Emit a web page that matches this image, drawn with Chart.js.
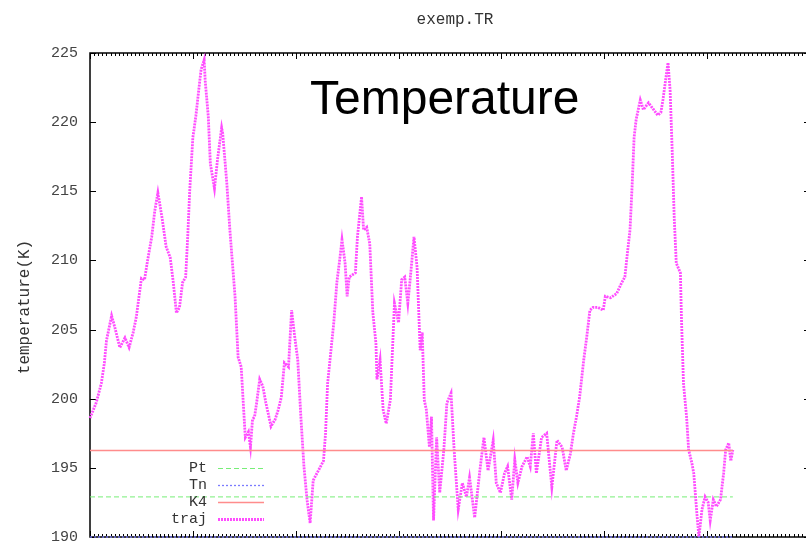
<!DOCTYPE html>
<html>
<head>
<meta charset="utf-8">
<title>exemp.TR</title>
<script src="https://cdn.jsdelivr.net/npm/chart.js@4.4.1/dist/chart.umd.min.js"></script>
<style>
  html, body { margin: 0; padding: 0; background: #fff; overflow: hidden; }
  #wrap { width: 812px; height: 546px; }
</style>
</head>
<body>
<div id="wrap"><canvas id="trChart" width="812" height="546"></canvas></div>
<script>
// ===== Data =====
const trajSteps = [
  0, 6, 11, 14, 16, 21, 24, 29, 34, 38, 42, 45, 50, 53, 56, 60, 63, 66, 70, 74,
  78, 81, 84, 87, 90, 93, 95, 97, 100, 101, 103, 106, 108, 111, 112, 115, 117, 121, 124, 128,
  129, 133, 136, 139, 141, 144, 147, 149, 151, 154, 156, 158, 160, 162, 165, 168, 171, 176, 180, 183,
  186, 189, 193, 196, 199, 202, 205, 208, 211, 214, 217, 222, 227, 229, 231, 237, 240, 243, 245, 248,
  250, 252, 258, 260, 264, 266, 269, 272, 275, 278, 279, 282, 285, 288, 292, 296, 300, 303, 306, 309,
  311, 315, 318, 321, 323, 325, 327, 330, 332, 334, 337, 340, 344, 347, 351, 354, 358, 362, 366, 369,
  374, 379, 383, 387, 392, 395, 399, 403, 406, 410, 413, 416, 420, 425, 428, 431, 434, 439, 444, 449,
  454, 459, 463, 467, 470, 473, 476, 480, 483, 486, 489, 494, 499, 501, 506, 512, 517, 520, 522, 525,
  527, 529, 531, 533, 535, 538, 543, 548, 552, 555, 557, 561, 562, 564, 566, 568, 570, 574, 575, 577,
  580, 582, 585, 587, 590, 592, 595, 598, 601, 603, 606, 609, 613, 616, 618, 621, 623, 625
];
const trajTemps = [
  198.6, 199.7, 201.1, 202.6, 204.2, 206.0, 205.2, 203.7, 204.4, 203.7, 204.8, 205.9, 208.7, 208.6, 210.0, 211.7, 213.6, 214.9, 213.1, 211.0,
  210.2, 208.4, 206.2, 206.6, 208.4, 208.8, 211.7, 215.1, 218.9, 219.4, 220.5, 222.5, 223.8, 224.5, 223.0, 220.4, 217.0, 215.2, 217.3, 219.6,
  219.2, 215.6, 212.2, 209.3, 207.4, 203.0, 202.3, 199.7, 197.2, 197.6, 196.5, 198.5, 198.7, 199.7, 201.4, 200.9, 199.7, 198.0, 198.5, 199.2,
  200.1, 202.6, 202.3, 206.4, 204.5, 202.8, 198.7, 195.1, 192.7, 191.0, 194.1, 194.8, 195.5, 197.5, 201.1, 205.5, 208.4, 210.2, 211.5, 209.8,
  207.4, 208.8, 209.1, 211.7, 214.6, 212.2, 212.4, 211.2, 206.2, 204.0, 201.4, 202.8, 199.2, 198.2, 199.9, 206.9, 205.5, 208.6, 208.8, 206.9,
  208.4, 211.7, 209.5, 203.5, 204.8, 199.9, 199.2, 196.5, 198.7, 191.2, 197.2, 193.2, 196.3, 199.7, 200.4, 196.3, 192.0, 193.9, 192.9, 194.3,
  191.4, 194.8, 197.2, 194.8, 197.0, 193.9, 193.2, 194.6, 195.1, 192.7, 195.6, 193.9, 195.1, 195.8, 195.1, 197.5, 194.6, 197.2, 197.5, 193.6,
  197.0, 196.5, 194.8, 196.0, 197.5, 198.7, 200.1, 202.8, 204.5, 206.4, 206.6, 206.6, 206.4, 207.4, 207.3, 207.6, 208.4, 208.8, 210.2, 212.2,
  215.3, 218.9, 220.2, 220.9, 221.6, 220.9, 221.4, 220.9, 220.5, 220.7, 221.6, 223.8, 224.3, 222.3, 218.0, 213.1, 209.8, 209.1, 205.9, 201.1,
  198.7, 196.3, 195.4, 194.6, 191.7, 190.0, 192.0, 192.9, 192.5, 191.2, 192.7, 192.2, 192.7, 194.6, 196.3, 196.8, 195.5, 196.3
];

// constant reference levels
const levelNames = ['Pt', 'Tn', 'K4'];
const levelTemps = [192.9, 190.0, 196.25];

// axis ticks
const tempTicks = [190, 195, 200, 205, 210, 215, 220, 225];
const stepRange = [0, 700];
const stepMajor = 100;
const stepMinor = 4;

// ===== Styles =====
const levelStyles = {
  Pt: { color: '#77ee77', dash: [5, 3], width: 1 },
  Tn: { color: '#7b7bff', dash: [2, 2], width: 1.3 },
  K4: { color: '#ff8c8c', dash: [], width: 1.5 },
};
const trajStyle = { color: '#ff4dff', dash: [2, 1], width: 2.8 };
const monoFont = "'Liberation Mono', 'DejaVu Sans Mono', monospace";

const trajEnd = trajSteps[trajSteps.length - 1];

const datasets = levelNames.map((name, i) => ({
  label: name,
  data: [{ x: stepRange[0], y: levelTemps[i] }, { x: trajEnd, y: levelTemps[i] }],
  borderColor: levelStyles[name].color,
  borderDash: levelStyles[name].dash,
  borderWidth: levelStyles[name].width,
  pointRadius: 0,
  clip: 4,
}));
datasets.push({
  label: 'traj',
  data: trajSteps.map((s, i) => ({ x: s, y: trajTemps[i] })),
  borderColor: trajStyle.color,
  borderDash: trajStyle.dash,
  borderWidth: trajStyle.width,
  pointRadius: 0,
  tension: 0,
  clip: 4,
});

// ===== Frame, ticks, labels & legend (gnuplot look) =====
const gnuplotFrame = {
  id: 'gnuplotFrame',
  beforeDatasetsDraw(chart) {
    const { ctx, chartArea: a, scales: { x, y } } = chart;
    ctx.save();
    ctx.strokeStyle = '#000';
    ctx.lineWidth = 1.5;
    ctx.strokeRect(a.left, a.top, a.right - a.left, a.bottom - a.top);

    ctx.lineWidth = 1;
    ctx.beginPath();
    // y ticks, inward on both sides
    tempTicks.forEach(t => {
      const py = Math.round(y.getPixelForValue(t)) + 0.5;
      ctx.moveTo(a.left, py); ctx.lineTo(a.left + 6, py);
      ctx.moveTo(a.right, py); ctx.lineTo(a.right - 6, py);
    });
    // x ticks, inward top and bottom
    for (let s = stepRange[0]; s <= stepRange[1]; s += stepMinor) {
      const px = Math.round(x.getPixelForValue(s)) + 0.5;
      ctx.moveTo(px, a.top); ctx.lineTo(px, a.top + 3);
      ctx.moveTo(px, a.bottom); ctx.lineTo(px, a.bottom - 3);
    }
    for (let s = stepRange[0]; s <= stepRange[1]; s += stepMajor) {
      const px = Math.round(x.getPixelForValue(s)) + 0.5;
      ctx.moveTo(px, a.top); ctx.lineTo(px, a.top + 6);
      ctx.moveTo(px, a.bottom); ctx.lineTo(px, a.bottom - 6);
    }
    ctx.stroke();
    ctx.restore();
  },
  afterDraw(chart) {
    const { ctx } = chart;
    ctx.save();

    // small file title
    ctx.fillStyle = '#333';
    ctx.font = '16px ' + monoFont;
    ctx.textAlign = 'center';
    ctx.textBaseline = 'alphabetic';
    ctx.fillText('exemp.TR', 455, 24);

    // big in-plot label
    ctx.fillStyle = '#000';
    ctx.font = '48px "Liberation Sans", Arial, sans-serif';
    ctx.textAlign = 'left';
    ctx.fillText('Temperature', 310, 114);

    // y axis title
    ctx.save();
    ctx.fillStyle = '#333';
    ctx.font = '16px ' + monoFont;
    ctx.translate(29, 307);
    ctx.rotate(-Math.PI / 2);
    ctx.textAlign = 'center';
    ctx.fillText('temperature(K)', 0, 0);
    ctx.restore();

    // legend: text right-aligned, sample to the right
    const rows = [468, 485, 502, 519];
    ctx.font = '15px ' + monoFont;
    ctx.textAlign = 'right';
    ctx.textBaseline = 'middle';
    chart.data.datasets.forEach((ds, i) => {
      const ly = rows[i] + 0.5;
      ctx.fillStyle = '#333';
      ctx.fillText(ds.label, 207, rows[i]);
      ctx.strokeStyle = ds.borderColor;
      ctx.lineWidth = ds.borderWidth;
      ctx.setLineDash(ds.borderDash || []);
      ctx.beginPath();
      ctx.moveTo(218, ly);
      ctx.lineTo(264, ly);
      ctx.stroke();
      ctx.setLineDash([]);
    });
    ctx.restore();
  }
};

new Chart(document.getElementById('trChart').getContext('2d'), {
  type: 'line',
  data: { datasets },
  options: {
    responsive: false,
    animation: false,
    devicePixelRatio: 1,
    layout: { padding: { top: 53, bottom: 9, left: 0, right: 2 } },
    plugins: {
      legend: { display: false },
      title: { display: false },
      tooltip: { enabled: false },
    },
    scales: {
      x: {
        type: 'linear',
        min: stepRange[0],
        max: stepRange[1],
        display: false,
      },
      y: {
        type: 'linear',
        min: tempTicks[0],
        max: tempTicks[tempTicks.length - 1],
        afterBuildTicks: (scale) => { scale.ticks = tempTicks.map(v => ({ value: v })); },
        afterFit: (scale) => {
          scale.width = 90;
          scale.paddingTop = 0;
          scale.paddingBottom = 0;
        },
        grid: { display: false, drawTicks: false },
        border: { display: false },
        ticks: {
          padding: 12,
          color: '#444',
          font: { family: monoFont, size: 15 },
        },
      },
    },
  },
  plugins: [gnuplotFrame],
});
</script>
</body>
</html>
